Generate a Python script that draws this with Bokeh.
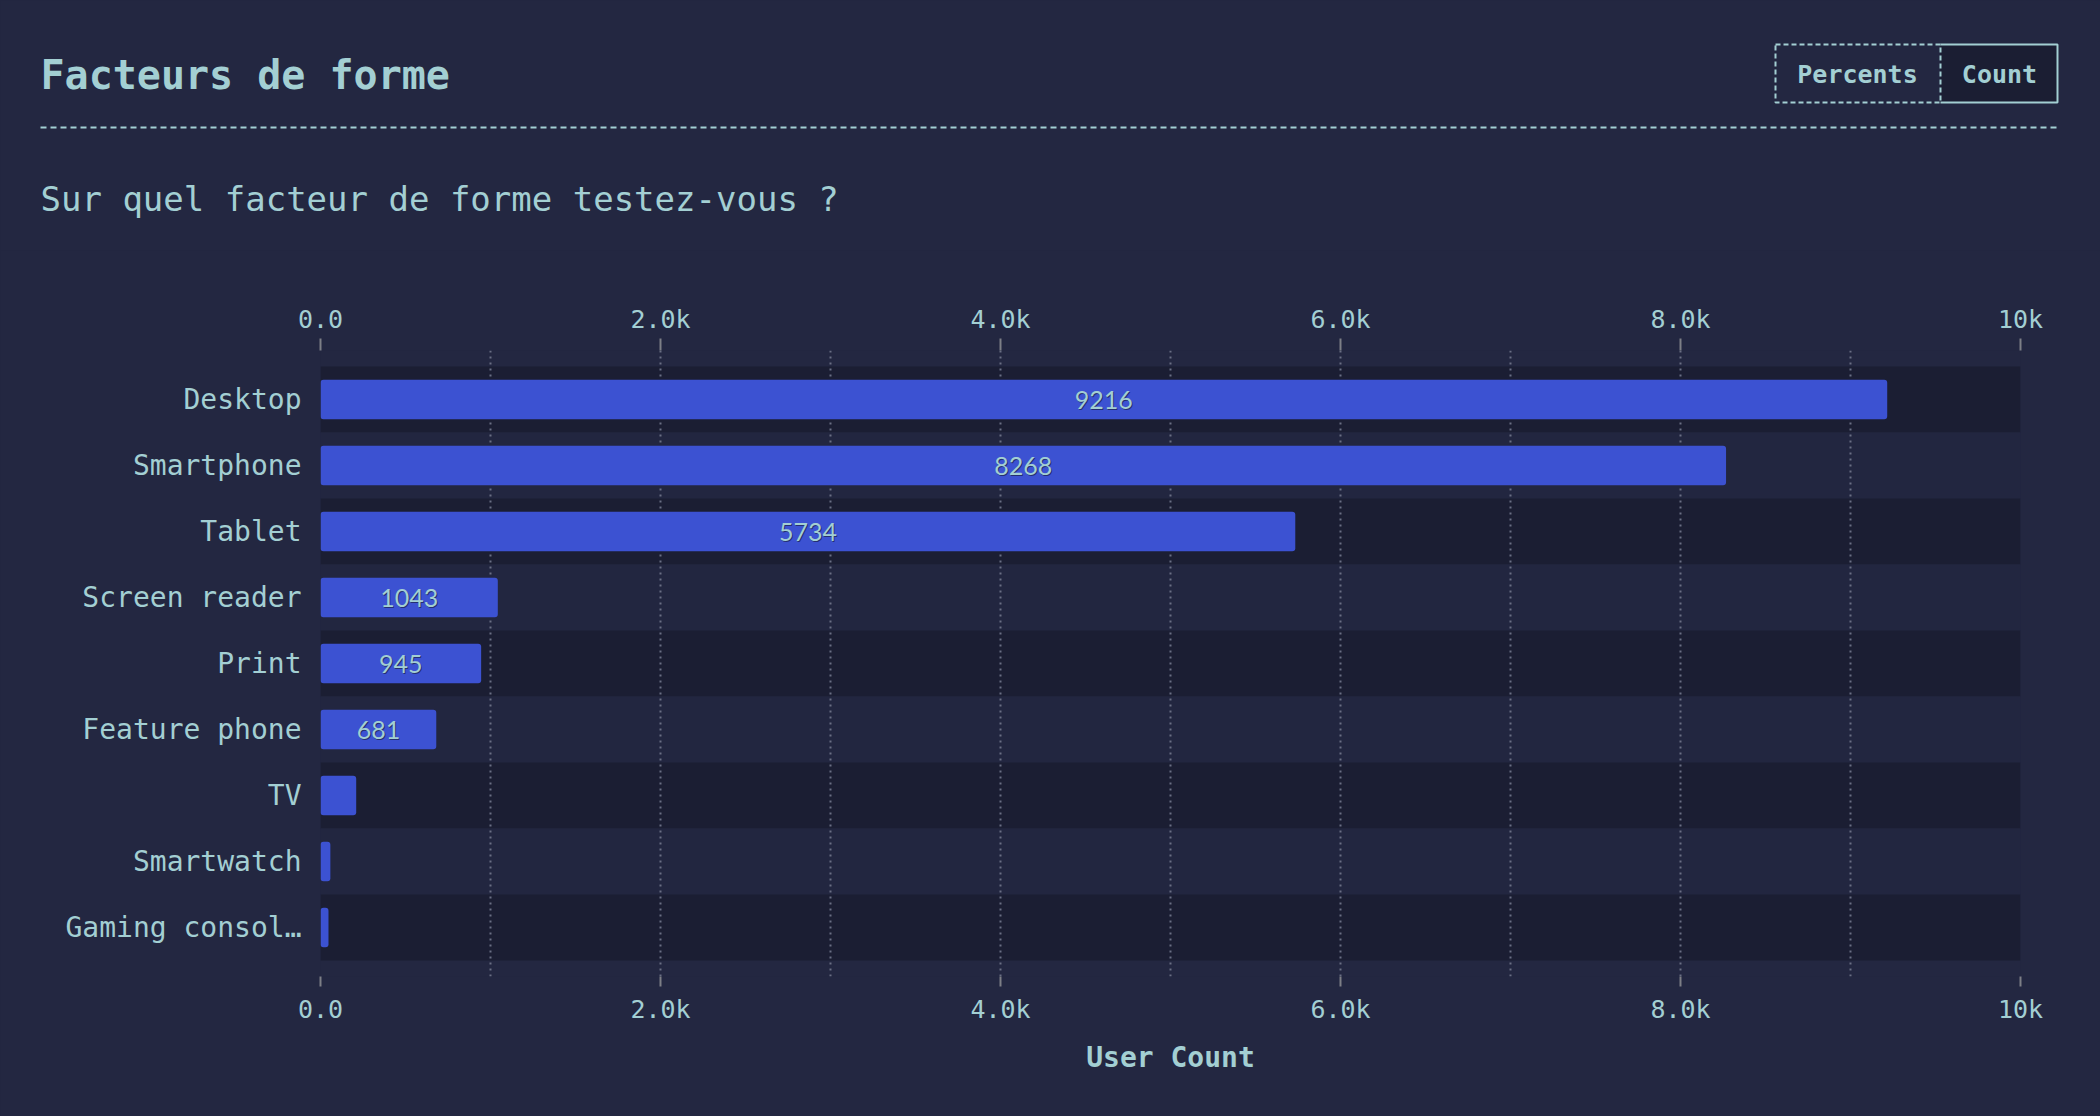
from bokeh.plotting import figure
from bokeh.layouts import column
from bokeh.models import (Range1d, FixedTicker, LinearAxis, ColumnDataSource, LabelSet,
                          GlobalInlineStyleSheet)
from bokeh.core.properties import value
from bokeh.embed import file_html
from bokeh.resources import INLINE

# ---------------- data ----------------
categories = ["Desktop", "Smartphone", "Tablet", "Screen reader", "Print",
              "Feature phone", "TV", "Smartwatch", "Gaming console"]
counts = [9216, 8268, 5734, 1043, 945, 681, 210, 58, 47]
tick_values = [0, 2000, 4000, 6000, 8000, 10000]
tick_labels = ["0.0", "2.0k", "4.0k", "6.0k", "8.0k", "10k"]
grid_values = [0, 1000, 2000, 3000, 4000, 5000, 6000, 7000, 8000, 9000, 10000]
title_text = "Facteurs de forme"
subtitle_text = "Sur quel facteur de forme testez-vous ?"
axis_title = "User Count"
toggle_labels = ["Percents", "Count"]

# ---------------- style ----------------
BG = "#232741"
BAND_DARK = "#1b1e33"
BAND_LIGHT = "#222640"
BAR = "#3c52d2"
TEXT = "#a3cfd3"
GRID = "#6a6f84"
TICK = "#7d7f86"
MONO = "DejaVu Sans Mono"
SANS = "Lato"

W = 2100
HEAD_H = 250
H = 1116 - HEAD_H
FRAME_L, FRAME_R = 320, 2020
FRAME_T, FRAME_B = 350 - HEAD_H, 976 - HEAD_H
X_MAX = tick_values[-1]

n = len(categories)
idx = list(range(n))
pad = 16 / 66.0

def short(s, m=13):
    return s if len(s) <= m else s[:m] + "\u2026"

css = [GlobalInlineStyleSheet(css="html, body { background-color: %s; }" % BG)]

# ---------------- header ----------------
hd = figure(width=W, height=HEAD_H, output_backend="svg", toolbar_location=None,
            x_range=Range1d(0, W), y_range=Range1d(HEAD_H, 0),
            x_axis_type=None, y_axis_type=None,
            min_border_left=0, min_border_right=0, min_border_top=0, min_border_bottom=0)
hd.frame_align = False
hd.background_fill_color = BG
hd.border_fill_color = BG
hd.outline_line_color = None
hd.grid.grid_line_color = None

hd.text(x=[40], y=[74], text=[title_text], text_font=value(MONO), text_font_size="40px",
        text_font_style="bold", text_color=TEXT, text_baseline="middle")
hd.text(x=[40], y=[198], text=[subtitle_text], text_font=value(MONO), text_font_size="34px",
        text_color=TEXT, text_baseline="middle")
hd.segment(x0=[40], y0=[127], x1=[2058], y1=[127], line_color=TEXT, line_width=2,
           line_dash="6 4")

# toggle: Count (selected) then Percents (dashed)
hd.quad(left=[1940], right=[2058], top=[44], bottom=[102], fill_color=BAND_DARK,
        line_color=None)
hd.multi_line(xs=[[1940, 2057, 2057, 1940]], ys=[[44, 44, 102, 102]],
              line_color=TEXT, line_width=2)
hd.quad(left=[1775], right=[1940], top=[44], bottom=[102], fill_color=None,
        line_color=TEXT, line_width=2, line_dash="5 3")
hd.text(x=[1857, 1999], y=[74, 74], text=toggle_labels, text_font=value(MONO),
        text_font_size="25px", text_font_style="bold", text_color=TEXT,
        text_align="center", text_baseline="middle")

# ---------------- chart ----------------
p = figure(width=W, height=H, output_backend="svg", toolbar_location=None,
           x_range=Range1d(0, X_MAX), y_range=Range1d(n - 0.5 + pad, -0.5 - pad),
           min_border_left=FRAME_L, min_border_right=W - FRAME_R,
           min_border_top=FRAME_T, min_border_bottom=H - FRAME_B)
p.frame_align = False
p.background_fill_color = BG
p.border_fill_color = BG
p.outline_line_color = None

# alternating row bands
band_src = ColumnDataSource(dict(y=idx, right=[X_MAX] * n,
                                 color=[BAND_DARK if i % 2 == 0 else BAND_LIGHT for i in idx]))
p.hbar(y="y", left=0, right="right", height=1.0, source=band_src,
       fill_color="color", line_color=None, level="image")

# bars
bar_src = ColumnDataSource(dict(y=idx, count=counts))
p.hbar(y="y", left=0, right="count", height=0.6, source=bar_src,
       fill_color=BAR, line_color=None, border_radius=3)

# value labels inside bars (only where they fit)
lab = [(i, c) for i, c in zip(idx, counts) if c >= 400]
lab_src = ColumnDataSource(dict(y=[a for a, _ in lab], x=[c / 2 for _, c in lab],
                                t=[str(c) for _, c in lab]))
p.add_layout(LabelSet(x="x", y="y", text="t", source=lab_src, x_offset=1, y_offset=-1.5,
                      text_align="center", text_baseline="middle",
                      text_font=value(SANS), text_font_size="25px",
                      text_color="#151830", text_alpha=0.6))
p.add_layout(LabelSet(x="x", y="y", text="t", source=lab_src,
                      text_align="center", text_baseline="middle",
                      text_font=value(SANS), text_font_size="25px", text_color=TEXT))

# grid
p.ygrid.grid_line_color = None
p.xgrid.ticker = FixedTicker(ticks=grid_values)
p.xgrid.grid_line_color = GRID
p.xgrid.grid_line_dash = "2 4"
p.xgrid.grid_line_width = 2

# axes
def style_x(ax, out, standoff):
    ax.ticker = FixedTicker(ticks=tick_values)
    ax.major_label_overrides = {v: l for v, l in zip(tick_values, tick_labels)}
    ax.minor_tick_line_color = None
    ax.axis_line_color = None
    ax.major_tick_line_color = TICK
    ax.major_tick_line_width = 2
    ax.major_tick_in = 0
    ax.major_tick_out = out
    ax.major_label_text_font = MONO
    ax.major_label_text_font_size = "25px"
    ax.major_label_text_color = TEXT
    ax.major_label_standoff = standoff

bx = p.xaxis[0]
style_x(bx, 10, 8)
bx.axis_label = axis_title
bx.axis_label_text_font = MONO
bx.axis_label_text_font_size = "28px"
bx.axis_label_text_font_style = "bold"
bx.axis_label_text_color = TEXT
bx.axis_label_standoff = 14

tx = LinearAxis()
style_x(tx, 12, 5)
p.add_layout(tx, "above")

ly = p.yaxis[0]
ly.ticker = FixedTicker(ticks=idx)
ly.major_label_overrides = {i: short(c) for i, c in zip(idx, categories)}
ly.axis_line_color = None
ly.major_tick_line_color = None
ly.minor_tick_line_color = None
ly.major_label_standoff = 13
ly.major_label_text_font = MONO
ly.major_label_text_font_size = "28px"
ly.major_label_text_color = TEXT

layout = column(hd, p, spacing=0)
layout.stylesheets = css
open("out.html", "w").write(file_html(layout, INLINE))
